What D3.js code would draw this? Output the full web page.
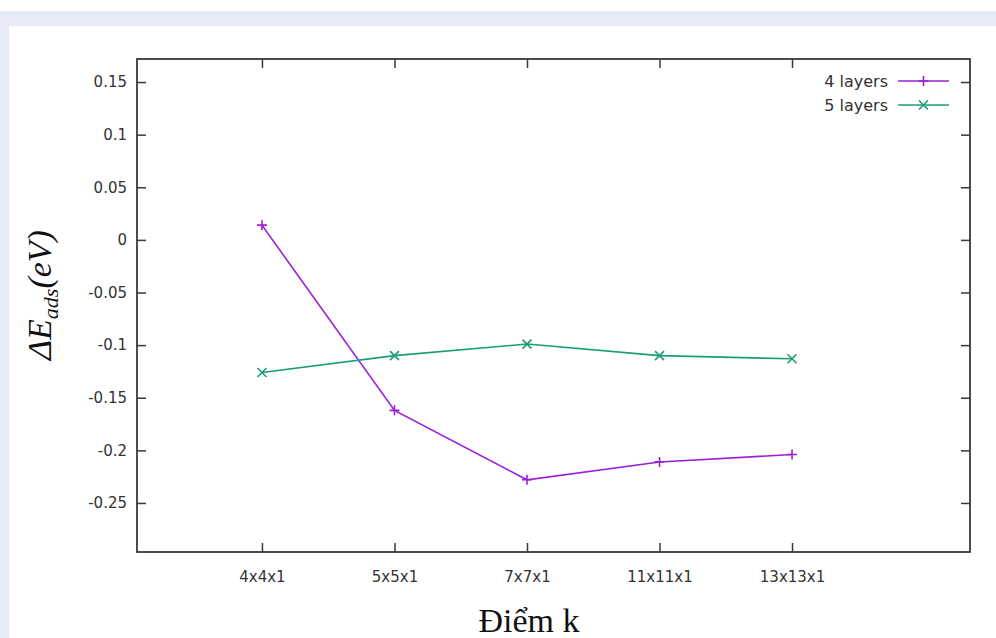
<!DOCTYPE html>
<html>
<head>
<meta charset="utf-8">
<script src="https://cdn.jsdelivr.net/npm/d3@7"></script>
<style>
  html, body { margin: 0; padding: 0; background: #fff; }
  svg { display: block; }
</style>
</head>
<body>
<div id="chart"></div>
<script>
// data
const kPoints = ['4x4x1', '5x5x1', '7x7x1', '11x11x1', '13x13x1'];
const layers4 = [0.014, -0.162, -0.228, -0.211, -0.204];
const layers5 = [-0.126, -0.110, -0.099, -0.110, -0.113];
const yTicks = [0.15, 0.1, 0.05, 0, -0.05, -0.1, -0.15, -0.2, -0.25];
const seriesNames = ['4 layers', '5 layers'];

const WIDTH = 996, HEIGHT = 638;
const FRAME = {left: 137, top: 59, right: 970, bottom: 552};
const COLORS = ['#9a1fd6', '#1a9e78'];
const TICK_FONT = "'DejaVu Sans', sans-serif";

const svg = d3.select('#chart').append('svg')
  .attr('width', WIDTH)
  .attr('height', HEIGHT);

// page background strips
svg.append('rect').attr('x', 0).attr('y', 11).attr('width', WIDTH).attr('height', 15).attr('fill', '#e7ebf5');
svg.append('rect').attr('x', 0).attr('y', 11).attr('width', 9).attr('height', HEIGHT - 11).attr('fill', '#e7ebf5');

// scales: x is the index of the k-point grid
const x = d3.scaleLinear()
  .domain([0.057, 6.343])
  .range([FRAME.left, FRAME.right]);
const y = d3.scaleLinear()
  .domain([-0.2966, 0.1719])
  .range([FRAME.bottom, FRAME.top]);

const tickLen = 9;
const axisColor = '#3a3a3a';

function styleTicks(g) {
  g.select('.domain').remove();
  g.selectAll('line').attr('stroke', axisColor).attr('stroke-width', 1.5);
  g.selectAll('text')
    .attr('font-family', TICK_FONT).attr('font-size', 15)
    .style('font-family', TICK_FONT).style('font-size', '15px')
    .attr('fill', '#333');
}

// left axis + mirrored right ticks
const yAxis = d3.axisLeft(y).tickValues(yTicks).tickSize(-tickLen).tickPadding(10)
  .tickFormat(d => String(+d.toFixed(2)));
svg.append('g')
  .attr('transform', 'translate(' + FRAME.left + ',0)')
  .call(yAxis)
  .call(styleTicks);

svg.append('g')
  .attr('transform', 'translate(' + FRAME.right + ',0)')
  .call(d3.axisRight(y).tickValues(yTicks).tickSize(-tickLen).tickFormat(''))
  .call(styleTicks);

// bottom axis + mirrored top ticks
const idx = kPoints.map((d, i) => i + 1);
const xAxis = d3.axisBottom(x).tickValues(idx).tickSize(-tickLen).tickPadding(19)
  .tickFormat(d => kPoints[d - 1]);
svg.append('g')
  .attr('transform', 'translate(0,' + FRAME.bottom + ')')
  .call(xAxis)
  .call(styleTicks);

svg.append('g')
  .attr('transform', 'translate(0,' + FRAME.top + ')')
  .call(d3.axisTop(x).tickValues(idx).tickSize(-tickLen).tickFormat(''))
  .call(styleTicks);

// frame
svg.append('rect')
  .attr('x', FRAME.left).attr('y', FRAME.top)
  .attr('width', FRAME.right - FRAME.left).attr('height', FRAME.bottom - FRAME.top)
  .attr('fill', 'none').attr('stroke', axisColor).attr('stroke-width', 1.8);

// markers
function plusPath(s) { return 'M' + (-s) + ',0H' + s + 'M0,' + (-s) + 'V' + s; }
function crossPath(s) { return 'M' + (-s) + ',' + (-s) + 'L' + s + ',' + s + 'M' + (-s) + ',' + s + 'L' + s + ',' + (-s); }
const markers = [plusPath(5), crossPath(4.5)];

const line = d3.line().x((d, i) => x(i + 1)).y(d => y(d));
[layers4, layers5].forEach(function (vals, s) {
  svg.append('path')
    .datum(vals)
    .attr('d', line)
    .attr('fill', 'none')
    .attr('stroke', COLORS[s])
    .attr('stroke-width', 1.6);
  svg.selectAll('.mk' + s)
    .data(vals)
    .enter().append('path')
    .attr('class', 'mk' + s)
    .attr('transform', (d, i) => 'translate(' + x(i + 1) + ',' + y(d) + ')')
    .attr('d', markers[s])
    .attr('fill', 'none')
    .attr('stroke', COLORS[s])
    .attr('stroke-width', 1.6);
});

// legend
const legend = svg.append('g');
seriesNames.forEach(function (name, s) {
  const ly = 81 + s * 24;
  legend.append('text')
    .attr('x', 888).attr('y', ly).attr('dy', '0.35em')
    .attr('text-anchor', 'end')
    .style('font-family', TICK_FONT).style('font-size', '16px')
    .attr('fill', '#333')
    .text(name);
  legend.append('line')
    .attr('x1', 898).attr('x2', 949).attr('y1', ly).attr('y2', ly)
    .attr('stroke', COLORS[s]).attr('stroke-width', 1.6);
  legend.append('path')
    .attr('transform', 'translate(923.5,' + ly + ')')
    .attr('d', markers[s])
    .attr('fill', 'none').attr('stroke', COLORS[s]).attr('stroke-width', 1.6);
});

// axis titles
const ylab = svg.append('text')
  .attr('transform', 'translate(51,295) rotate(-90)')
  .attr('text-anchor', 'middle')
  .style('font-family', "'Liberation Serif', 'Times New Roman', serif")
  .style('font-style', 'italic')
  .style('font-size', '34px')
  .attr('fill', '#111');
ylab.append('tspan').text('ΔE');
ylab.append('tspan').attr('dy', 7).style('font-size', '22px').text('ads');
ylab.append('tspan').attr('dy', -7).text('(eV)');

svg.append('text')
  .attr('x', 529).attr('y', 632)
  .attr('text-anchor', 'middle')
  .style('font-family', "'Liberation Serif', 'Times New Roman', serif")
  .style('font-size', '34px')
  .attr('fill', '#111')
  .text('Điểm k');
</script>
</body>
</html>
